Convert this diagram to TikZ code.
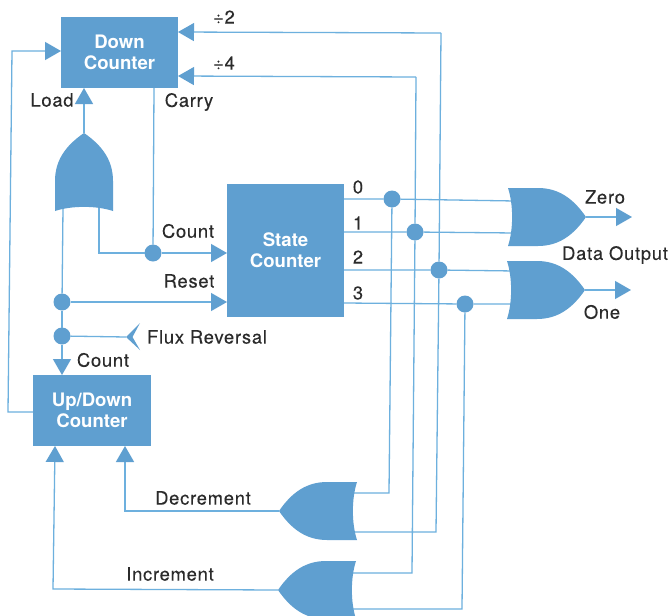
\documentclass[tikz,border=0pt]{standalone}
\usepackage{fontspec}
\setmainfont[LetterSpace=4,FakeBold=0.15]{TeX Gyre Heros}
\newfontfamily\boxfont[Scale=1]{TeX Gyre Heros}
\usetikzlibrary{arrows.meta,calc}
\definecolor{blockblue}{HTML}{5F9FD0}
\definecolor{wireblue}{HTML}{6DB0DE}
\definecolor{ink}{HTML}{2B2B2B}
\tikzset{
  x=1pt,y=-1pt,
  wire/.style={draw=wireblue,line width=1.3pt,line join=miter},
  tip/.style={-{Triangle[length=16pt,width=18pt,color=blockblue]}},
  block/.style={fill=blockblue,draw=none,inner sep=0pt,outer sep=0pt,align=center,text=white,
    font=\boxfont\bfseries\fontsize{18.6}{21}\selectfont},
  junction/.style={circle,fill=blockblue,draw=none,minimum size=17pt,inner sep=0pt,outer sep=0pt},
  lab/.style={text=ink,inner sep=0pt,font=\fontsize{18.4}{20}\selectfont},
  pics/orgate/.style={code={
    \fill[blockblue] (0,0) .. controls (-13,-19) and (-28,-29) .. (-48,-29) -- (-78,-29)
      .. controls (-72.5,-12) and (-72.5,12) .. (-78,29) -- (-48,29)
      .. controls (-28,29) and (-13,19) .. (0,0) -- cycle;
  }}
}
\begin{document}
\begin{tikzpicture}
\clip (0,0) rectangle (670,616);
\fill[white] (0,0) rectangle (670,616);

% blocks
\node[block,minimum width=117pt,minimum height=71pt] (dc) at (119.5,52.5) {Down\\Counter};
\node[block,minimum width=117pt,minimum height=133pt] (sc) at (285.5,250.5) {State\\Counter};
\node[block,minimum width=118pt,minimum height=71pt] (ud) at (92,410.5) {Up/Down\\Counter};

% junctions
\node[junction] (j0) at (392,199) {};
\node[junction] (j1) at (415,232) {};
\node[junction] (j2) at (439,270) {};
\node[junction] (j3) at (465,304) {};
\node[junction] (jc) at (153,253) {};
\node[junction] (jr) at (62,302) {};
\node[junction] (jf) at (62,336) {};

% gate anchors
\coordinate (gLoadTip) at (84,133);
\coordinate (gZeroTip) at (586,217);
\coordinate (gOneTip) at (585,290);
\coordinate (gDecTip) at (279,511);
\coordinate (gIncTip) at (278,590);

% wire points
\coordinate (loadInL) at (63,208);
\coordinate (loadInR) at (99,205);
\coordinate (loadCorner) at (99,253);
\coordinate (carryTop) at (154,88);
\coordinate (udLeftOut) at (33,412);
\coordinate (fbCornerB) at (8,412);
\coordinate (fbCornerT) at (12,51);
\coordinate (d2Corner) at (441,33);
\coordinate (d4Corner) at (416,77);
\coordinate (d2R) at (178,32);
\coordinate (d4R) at (178,76);
\coordinate (z0) at (515,201);
\coordinate (z1) at (515,233);
\coordinate (o2) at (515,271);
\coordinate (o3) at (515,304);
\coordinate (s0) at (344,199);
\coordinate (s1) at (344,232);
\coordinate (s2) at (344,270);
\coordinate (s3) at (344,303);
\coordinate (dIn0) at (352,493);
\coordinate (dIn0c) at (389,493);
\coordinate (dIn2) at (352,532);
\coordinate (dIn2c) at (436,532);
\coordinate (iIn1) at (350,573);
\coordinate (iIn1c) at (412,573);
\coordinate (iIn3) at (350,609);
\coordinate (iIn3c) at (462,609);
\coordinate (decCorner) at (125,511);
\coordinate (incCorner) at (53,589);
\coordinate (decHead) at (125,446);
\coordinate (incHead) at (55,446);
\coordinate (zOut) at (632,217);
\coordinate (oOut) at (631,290);
\coordinate (chevron) at (126,337);
\coordinate (chevU) at (140,323);
\coordinate (chevD) at (140,350);

% wires
\draw[wire,tip] (udLeftOut) -- (fbCornerB) -- (fbCornerT) -- (dc.west |- fbCornerT);
\draw[wire,tip] (d2Corner) -- (d2R);
\draw[wire] (d2Corner) -- (j2) -- (dIn2c) -- (dIn2);
\draw[wire,tip] (d4Corner) -- (d4R);
\draw[wire] (d4Corner) -- (j1) -- (iIn1c) -- (iIn1);
\draw[wire] (j0) -- (dIn0c) -- (dIn0);
\draw[wire] (j3) -- (iIn3c) -- (iIn3);
\draw[wire] (s0) -- (j0) -- (z0);
\draw[wire] (s1) -- (j1) -- (z1);
\draw[wire] (s2) -- (j2) -- (o2);
\draw[wire] (s3) -- (j3) -- (o3);
\draw[wire,tip] (gLoadTip) -- (gLoadTip |- dc.south);
\draw[wire] (carryTop) -- (jc);
\draw[wire] (loadInR) -- (loadCorner) -- (jc);
\draw[wire,tip] (jc) -- (sc.west |- jc);
\draw[wire] (loadInL) -- (jr);
\draw[wire,tip] (jr) -- (sc.west |- jr);
\draw[wire] (jr) -- (jf);
\draw[wire,tip] (jf) -- (jf |- ud.north);
\draw[wire] (jf) -- (chevron);
\draw[wire,tip] (gZeroTip) -- (zOut);
\draw[wire,tip] (gOneTip) -- (oOut);
\draw[wire,tip] (gDecTip) -- (decCorner) -- (decHead);
\draw[wire,tip] (gIncTip) -- (incCorner) -- (incHead);

% receiver chevron
\fill[blockblue] (chevU) -- (chevron) -- (chevD) -- (132.5,337) -- cycle;

% gates
\pic at (gLoadTip) [rotate=90] {orgate};
\pic at (gZeroTip) {orgate};
\pic at (gOneTip) {orgate};
\pic at (gDecTip) [rotate=180] {orgate};
\pic at (gIncTip) [rotate=180] {orgate};

% labels
\node[lab] (lDiv2) at (224,17) {÷2};
\node[lab] (lDiv4) at (224,63) {÷4};
\node[lab] (lLoad) at (52,100) {Load};
\node[lab] (lCarry) at (189,102) {Carry};
\node[lab] (lCountA) at (188,231) {Count};
\node[lab] (lReset) at (189,281) {Reset};
\node[lab] (l0) at (358,187) {0};
\node[lab] (l1) at (358,223) {1};
\node[lab] (l2) at (358,257) {2};
\node[lab] (l3) at (358,293) {3};
\node[lab] (lZero) at (605,197) {Zero};
\node[lab] (lData) at (615,255) {Data Output};
\node[lab] (lOne) at (602,312) {One};
\node[lab] (lFlux) at (207,337) {Flux Reversal};
\node[lab] (lCountB) at (103,360) {Count};
\node[lab] (lDec) at (203,498) {Decrement};
\node[lab] (lInc) at (170,574) {Increment};
\end{tikzpicture}
\end{document}
